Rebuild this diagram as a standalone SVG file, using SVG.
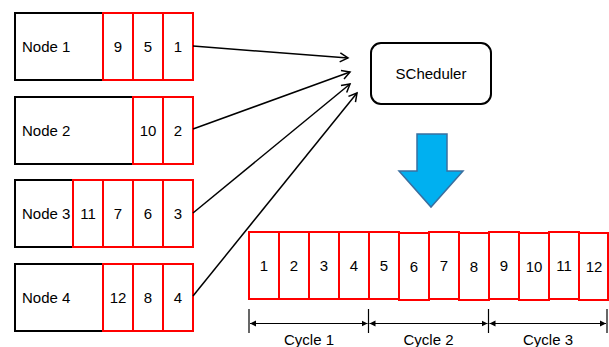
<svg xmlns="http://www.w3.org/2000/svg" width="609" height="347" viewBox="0 0 609 347">
<defs>
<style>
text{font-family:"Liberation Sans",Arial,sans-serif;font-size:15px;fill:#000}
.c{text-anchor:middle}
.blk{fill:#fff;stroke:#000;stroke-width:2}
.red{fill:#fff;stroke:#f00;stroke-width:2}
.con{stroke:#000;stroke-width:1.5;fill:none}
.dim{stroke:#000;stroke-width:1.2;fill:none}
</style>
<marker id="open" markerUnits="userSpaceOnUse" markerWidth="12" markerHeight="12" viewBox="0 0 12 12" refX="10" refY="6" orient="auto">
<path d="M2,1.5 L10,6 L2,10.5" fill="none" stroke="#000" stroke-width="1.5"/>
</marker>
<marker id="fill" markerUnits="userSpaceOnUse" markerWidth="8" markerHeight="8" viewBox="0 0 8 8" refX="6" refY="4" orient="auto-start-reverse">
<path d="M0,1 L6,4 L0,7 z" fill="#000"/>
</marker>
</defs>

<g id="node1">
<rect class="blk" x="15" y="13" width="178" height="67"/>
<rect class="red" x="103" y="13" width="30" height="67"/>
<rect class="red" x="133" y="13" width="30" height="67"/>
<rect class="red" x="163" y="13" width="30" height="67"/>
<text x="22" y="52">Node 1</text>
<text class="c" x="118" y="52">9</text>
<text class="c" x="148" y="52">5</text>
<text class="c" x="178" y="52">1</text>
</g>

<g id="node2">
<rect class="blk" x="15" y="97" width="178" height="67"/>
<rect class="red" x="133" y="97" width="30" height="67"/>
<rect class="red" x="163" y="97" width="30" height="67"/>
<text x="22" y="136">Node 2</text>
<text class="c" x="148" y="136">10</text>
<text class="c" x="178" y="136">2</text>
</g>

<g id="node3">
<rect class="blk" x="15" y="180" width="178" height="67"/>
<rect class="red" x="73" y="180" width="30" height="67"/>
<rect class="red" x="103" y="180" width="30" height="67"/>
<rect class="red" x="133" y="180" width="30" height="67"/>
<rect class="red" x="163" y="180" width="30" height="67"/>
<text x="22" y="219">Node 3</text>
<text class="c" x="88" y="219">11</text>
<text class="c" x="118" y="219">7</text>
<text class="c" x="148" y="219">6</text>
<text class="c" x="178" y="219">3</text>
</g>

<g id="node4">
<rect class="blk" x="15" y="264" width="178" height="67"/>
<rect class="red" x="103" y="264" width="30" height="67"/>
<rect class="red" x="133" y="264" width="30" height="67"/>
<rect class="red" x="163" y="264" width="30" height="67"/>
<text x="22" y="303">Node 4</text>
<text class="c" x="118" y="303">12</text>
<text class="c" x="148" y="303">8</text>
<text class="c" x="178" y="303">4</text>
</g>

<g id="scheduler">
<rect x="371" y="43" width="120" height="61" rx="10" ry="10" fill="#fff" stroke="#000" stroke-width="2"/>
<text class="c" x="431" y="79">SCheduler</text>
</g>

<g id="blue-arrow">
<polygon points="417,134 447,134 447,171 463,171 431,207 399,171 417,171" fill="#00B0F0" stroke="#3A6F9F" stroke-width="1.5"/>
</g>

<g id="queue">
<rect class="red" x="249" y="232" width="30" height="67"/>
<rect class="red" x="279" y="232" width="30" height="67"/>
<rect class="red" x="309" y="232" width="30" height="67"/>
<rect class="red" x="339" y="232" width="30" height="67"/>
<rect class="red" x="369" y="232" width="30" height="67"/>
<rect class="red" x="399" y="233" width="30" height="67"/>
<rect class="red" x="429" y="232" width="30" height="67"/>
<rect class="red" x="459" y="233" width="30" height="67"/>
<rect class="red" x="489" y="232" width="30" height="67"/>
<rect class="red" x="519" y="233" width="30" height="67"/>
<rect class="red" x="549" y="232" width="30" height="67"/>
<rect class="red" x="579" y="233" width="29" height="67"/>
<text class="c" x="264" y="271">1</text>
<text class="c" x="294" y="271">2</text>
<text class="c" x="324" y="271">3</text>
<text class="c" x="354" y="271">4</text>
<text class="c" x="384" y="271">5</text>
<text class="c" x="414" y="272">6</text>
<text class="c" x="444" y="271">7</text>
<text class="c" x="474" y="272">8</text>
<text class="c" x="504" y="271">9</text>
<text class="c" x="534" y="272">10</text>
<text class="c" x="564" y="271">11</text>
<text class="c" x="594" y="272">12</text>
</g>

<g id="connectors">
<line class="con" x1="193" y1="46" x2="348" y2="58" marker-end="url(#open)"/>
<line class="con" x1="193" y1="129" x2="350" y2="72" marker-end="url(#open)"/>
<line class="con" x1="193" y1="213" x2="350" y2="84" marker-end="url(#open)"/>
<line class="con" x1="193" y1="296" x2="357" y2="93" marker-end="url(#open)"/>
</g>

<g id="cycles">
<line class="dim" x1="249" y1="309" x2="249" y2="333" stroke-width="1.5"/>
<line class="dim" x1="368.5" y1="309" x2="368.5" y2="333" stroke-width="1.5"/>
<line class="dim" x1="488.5" y1="309" x2="488.5" y2="333" stroke-width="1.5"/>
<line class="dim" x1="607" y1="309" x2="607" y2="333" stroke-width="1.5"/>
<line class="dim" x1="250" y1="323.5" x2="367.5" y2="323.5" marker-start="url(#fill)" marker-end="url(#fill)"/>
<line class="dim" x1="369.5" y1="323.5" x2="487.5" y2="323.5" marker-start="url(#fill)" marker-end="url(#fill)"/>
<line class="dim" x1="489.5" y1="323.5" x2="606" y2="323.5" marker-start="url(#fill)" marker-end="url(#fill)"/>
<text class="c" x="309" y="345">Cycle 1</text>
<text class="c" x="428.5" y="345">Cycle 2</text>
<text class="c" x="548" y="345">Cycle 3</text>
</g>
</svg>
